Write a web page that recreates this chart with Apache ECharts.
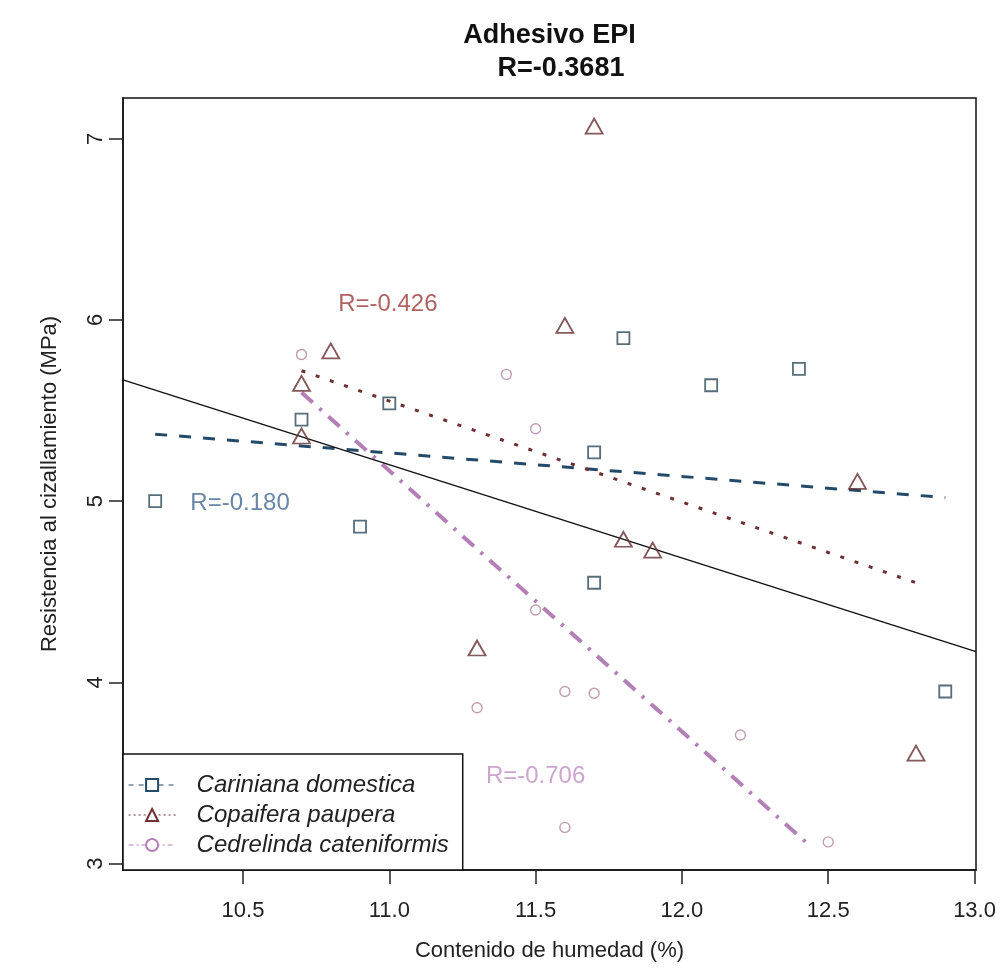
<!DOCTYPE html>
<html>
<head>
<meta charset="utf-8">
<script src="https://cdn.jsdelivr.net/npm/echarts@6/dist/echarts.min.js"></script>
<style>
html, body { margin: 0; background: #fff; }
#chart { width: 1000px; height: 980px; }
</style>
</head>
<body>
<div id="chart"></div>
<script>
var xTicks = [10.5, 11.0, 11.5, 12.0, 12.5, 13.0];
var yTicks = [3, 4, 5, 6, 7];

var speciesNames = ['Cariniana domestica', 'Copaifera paupera', 'Cedrelinda cateniformis'];

// puntos (humedad %, resistencia MPa)
var cariniana = [[10.2, 5.00], [10.7, 5.45], [10.9, 4.86], [11.0, 5.54], [11.7, 5.27],
                 [11.7, 4.55], [11.8, 5.90], [12.1, 5.64], [12.4, 5.73], [12.9, 3.95]];
var copaifera = [[10.7, 5.65], [10.7, 5.36], [10.8, 5.83], [11.3, 4.19], [11.6, 5.97],
                 [11.7, 7.07], [11.8, 4.79], [11.9, 4.73], [12.6, 5.11], [12.8, 3.61]];
var cedrelinda = [[10.7, 5.81], [11.3, 3.86], [11.4, 5.70], [11.5, 5.40], [11.5, 4.40],
                  [11.6, 3.95], [11.6, 3.20], [11.7, 3.94], [12.2, 3.71], [12.5, 3.12]];

// rectas de regresion (extremos leidos)
var fitAll = [[10.09, 5.67], [13.005, 4.17]];
var fitCariniana = [[10.2, 5.37], [12.9, 5.02]];
var fitCopaifera = [[10.7, 5.72], [12.8, 4.55]];
var fitCedrelinda = [[10.7, 5.60], [12.43, 3.11]];

var rTexts = ['R=-0.180', 'R=-0.426', 'R=-0.706'];
var rPlaces = [[10.49, 4.99], [10.995, 6.085], [11.50, 3.48]];

var titleText = 'Adhesivo EPI';
var titleR = 'R=-0.3681';

var FONT = '"Liberation Sans", Arial, sans-serif';
var colBlue = '#244a6a', colBlueMark = '#2c4a5a', colBlueText = '#42688e';
var colBrown = '#6e3033', colBrownMark = '#662e30', colBrownText = '#9c3b3a';
var colPurple = '#b47fb6', colPurpleMark = '#b0849f', colPurpleText = '#c08fc4';

var chart = echarts.init(document.getElementById('chart'));

function fitLine(name, data, color, width, dash, symbol) {
    return {
        name: name,
        type: 'line',
        data: data,
        symbol: symbol,
        showSymbol: false,
        silent: true,
        lineStyle: { color: color, width: width, type: dash },
        itemStyle: { color: color },
        z: 2
    };
}

function points(name, data, symbol, size, color, bw) {
    return {
        name: name,
        type: 'scatter',
        data: data,
        symbol: symbol,
        symbolSize: size,
        silent: true,
        itemStyle: { color: 'rgba(0,0,0,0)', borderColor: color, borderWidth: bw },
        z: 3
    };
}

var rColors = [colBlueText, colBrownText, colPurpleText];
var rData = rTexts.map(function (t, i) {
    return { name: t, value: rPlaces[i], label: { color: rColors[i] } };
});

chart.setOption({
    animation: false,
    backgroundColor: '#fff',
    textStyle: { fontFamily: FONT },
    graphic: [
        { type: 'text', x: 549.5, y: 36, style: { text: titleText, align: 'center', verticalAlign: 'middle',
          font: 'bold 27px ' + FONT, fill: '#111' } },
        { type: 'text', x: 561, y: 69, style: { text: titleR, align: 'center', verticalAlign: 'middle',
          font: 'bold 27px ' + FONT, fill: '#111' } }
    ],
    grid: {
        left: 123, right: 24, top: 98, bottom: 110,
        show: true, borderColor: '#111', borderWidth: 1.5, backgroundColor: 'rgba(0,0,0,0)'
    },
    legend: {
        orient: 'vertical',
        left: 123,
        bottom: 110,
        itemWidth: 47,
        itemHeight: 15,
        itemGap: 6,
        padding: [19, 14, 13, 5],
        borderColor: '#111',
        borderWidth: 1.5,
        borderRadius: 0,
        backgroundColor: '#fff',
        selectedMode: false,
        textStyle: { fontSize: 24, fontStyle: 'italic', color: '#222', fontFamily: FONT, padding: [0, 0, 0, 16] },
        data: [
            { name: speciesNames[0], lineStyle: { width: 1.2, type: [5, 5] } },
            { name: speciesNames[1], lineStyle: { width: 1.2, type: [2, 3] } },
            { name: speciesNames[2], lineStyle: { width: 1.2, type: [5, 3, 2, 3] } }
        ],
        z: 10
    },
    xAxis: {
        type: 'value',
        min: 10.09,
        max: 13.005,
        name: 'Contenido de humedad (%)',
        nameLocation: 'middle',
        nameGap: 70,
        nameTextStyle: { fontSize: 22, color: '#222', fontFamily: FONT },
        axisLine: { show: true, lineStyle: { color: '#111', width: 1.5 } },
        axisTick: { show: true, length: 14, customValues: xTicks, lineStyle: { color: '#222', width: 1.5 } },
        axisLabel: {
            customValues: xTicks, fontSize: 22, color: '#222', margin: 30,
            formatter: function (v) { return v.toFixed(1); }
        },
        splitLine: { show: false }
    },
    yAxis: {
        type: 'value',
        min: 2.965,
        max: 7.225,
        name: 'Resistencia al cizallamiento (MPa)',
        nameLocation: 'middle',
        nameGap: 62,
        nameRotate: 90,
        nameTextStyle: { fontSize: 22, color: '#222', fontFamily: FONT },
        axisLine: { show: true, lineStyle: { color: '#111', width: 1.5 } },
        axisTick: { show: true, length: 14, customValues: yTicks, lineStyle: { color: '#222', width: 1.5 } },
        axisLabel: { customValues: yTicks, fontSize: 22, color: '#222', margin: 16, rotate: 90 },
        splitLine: { show: false }
    },
    series: [
        fitLine(speciesNames[0], fitCariniana, colBlue, 3, [12, 12], 'emptyRect'),
        fitLine(speciesNames[1], fitCopaifera, colBrown, 3, [4, 11], 'emptyTriangle'),
        fitLine(speciesNames[2], fitCedrelinda, colPurple, 4, [15, 9, 3, 9], 'emptyCircle'),
        {
            name: 'todos',
            type: 'line',
            data: fitAll,
            showSymbol: false,
            symbol: 'none',
            silent: true,
            lineStyle: { color: '#111', width: 1.4 },
            z: 2
        },
        points(speciesNames[0], cariniana, 'rect', 12, colBlueMark, 1.8),
        points(speciesNames[1], copaifera, 'triangle', [17, 15], colBrownMark, 1.8),
        points(speciesNames[2], cedrelinda, 'circle', 10, colPurpleMark, 1.4),
        {
            name: 'etiquetas',
            type: 'scatter',
            data: rData,
            symbolSize: 0,
            silent: true,
            label: {
                show: true, position: 'inside', fontSize: 24, fontFamily: FONT,
                formatter: function (p) { return p.name; }
            },
            z: 4
        }
    ]
});
</script>
</body>
</html>
